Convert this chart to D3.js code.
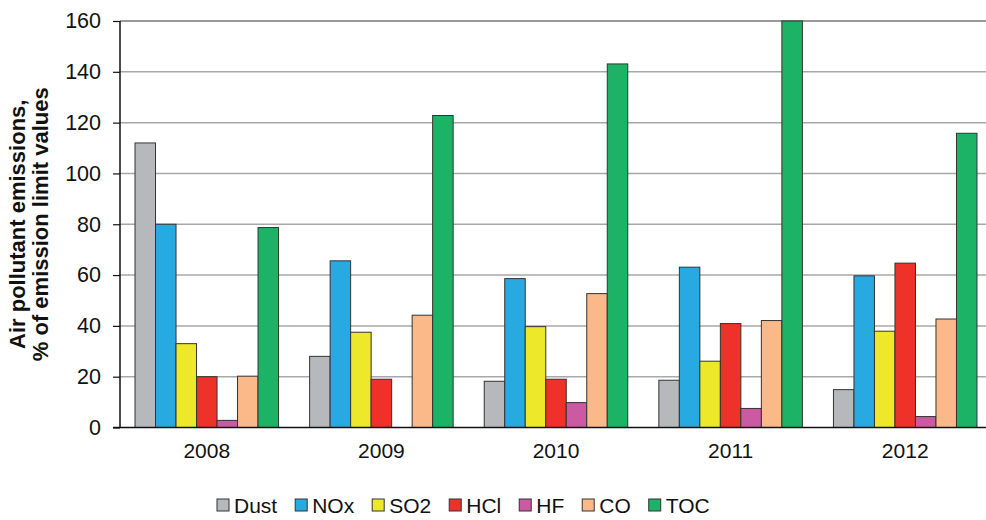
<!DOCTYPE html>
<html>
<head>
<meta charset="utf-8">
<script src="https://cdn.jsdelivr.net/npm/d3@7"></script>
<style>
	body { margin: 0; background: #fff; overflow: hidden; }
	text { font-family: "Liberation Sans", Arial, sans-serif; fill: #111; }
</style>
</head>
<body>
<svg id="chart"></svg>
<script>
const WIDTH = 986;
const HEIGHT = 520;

const years = ["2008", "2009", "2010", "2011", "2012"];
const pollutants = ["Dust", "NOx", "SO2", "HCl", "HF", "CO", "TOC"];
const colors = ["#b7b8bc", "#27aae1", "#ede82a", "#ee3129", "#cc5aa2", "#fbb98a", "#1db366"];

// one array per pollutant, values by year
const dust = [112, 28, 18.2, 18.6, 14.9];
const nox = [80, 65.6, 58.6, 63.1, 59.7];
const so2 = [33, 37.5, 39.7, 26.1, 37.9];
const hcl = [20, 19, 19, 40.9, 64.7];
const hf = [2.8, 0, 9.8, 7.5, 4.3];
const co = [20.2, 44.2, 52.7, 42.1, 42.7];
const toc = [78.7, 122.8, 143.1, 160, 115.8];
const seriesValues = [dust, nox, so2, hcl, hf, co, toc];

const yTicks = [0, 20, 40, 60, 80, 100, 120, 140, 160];

// the plot runs a little past the right edge of the picture, as in the original
const margin = { top: 21, right: -6, bottom: 92.5, left: 120 };
const innerW = WIDTH - margin.left - margin.right;
const innerH = HEIGHT - margin.top - margin.bottom;

const svg = d3.select("#chart").attr("width", WIDTH).attr("height", HEIGHT);
const g = svg.append("g").attr("transform", `translate(${margin.left},${margin.top})`);

const x0 = d3.scaleBand().domain(years).range([0, innerW]).paddingInner(0.178).paddingOuter(0.086);
const x1 = d3.scaleBand().domain(pollutants).range([0, x0.bandwidth()]);
const y = d3.scaleLinear().domain([0, 160]).range([innerH, 0]);

// grid
g.selectAll(".grid")
	.data(yTicks.filter(t => t > 0))
	.join("line")
	.attr("x1", 0)
	.attr("x2", WIDTH - margin.left)
	.attr("y1", d => y(d))
	.attr("y2", d => y(d))
	.attr("stroke", d => (d === 160 ? "#777" : "#a8a8a8"))
	.attr("stroke-width", 1.5);

// bars
const groups = g.selectAll(".year")
	.data(years)
	.join("g")
	.attr("transform", d => `translate(${x0(d)},0)`);

groups.selectAll("rect")
	.data((yr, i) => pollutants.map((p, k) => ({ p, k, v: seriesValues[k][i] })).filter(d => d.v > 0))
	.join("rect")
	.attr("x", d => x1(d.p))
	.attr("width", x1.bandwidth())
	.attr("y", d => y(d.v))
	.attr("height", d => innerH - y(d.v))
	.attr("fill", d => colors[d.k])
	.attr("stroke", "#333")
	.attr("stroke-width", 1);

// axes
const yAxis = g.append("g").call(d3.axisLeft(y).tickValues(yTicks).tickSize(7).tickPadding(12).tickFormat(d3.format("d")));
yAxis.select(".domain").attr("stroke", "#111").attr("stroke-width", 1.5).attr("d", `M0,${innerH}V0`);
yAxis.selectAll(".tick line").attr("stroke", "#111").attr("stroke-width", 1.2);
yAxis.selectAll("text").style("font-size", "21.5px").attr("fill", "#111");

const xAxis = g.append("g")
	.attr("transform", `translate(0,${innerH})`)
	.call(d3.axisBottom(x0).tickSize(0).tickPadding(16));
xAxis.select(".domain").attr("stroke", "#111").attr("stroke-width", 1.5).attr("d", `M-7,0H${WIDTH - margin.left}`);
xAxis.selectAll("text").style("font-size", "21px").attr("fill", "#111");

// y title
const title = svg.append("text")
	.attr("transform", `translate(25,${margin.top + innerH / 2}) rotate(-90)`)
	.attr("text-anchor", "middle")
	.style("font-size", "22px")
	.style("font-weight", "bold");
title.append("tspan").attr("x", 0).attr("dy", 0).text("Air pollutant emissions,");
title.append("tspan").attr("x", 0).attr("dy", 23).text("% of emission limit values");

// legend
const legend = svg.append("g").attr("transform", "translate(217,505)");
let lx = 0;
pollutants.forEach((p, k) => {
	const item = legend.append("g").attr("transform", `translate(${lx},0)`);
	item.append("rect")
		.attr("x", 0).attr("y", -6)
		.attr("width", 12).attr("height", 12)
		.attr("fill", colors[k]).attr("stroke", "#333").attr("stroke-width", 1);
	const t = item.append("text")
		.attr("x", 17).attr("y", 0).attr("dy", "0.36em")
		.style("font-size", "21px")
		.text(p);
	lx += 17 + t.node().getComputedTextLength() + 18;
});
</script>
</body>
</html>
